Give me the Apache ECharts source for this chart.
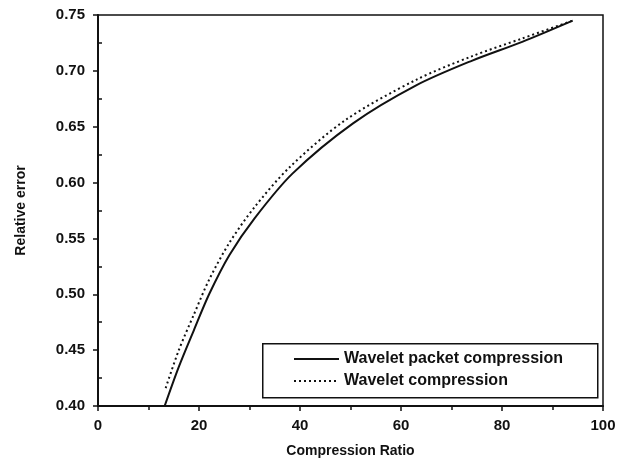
<!DOCTYPE html>
<html>
<head>
<meta charset="utf-8">
<script src="https://cdn.jsdelivr.net/npm/echarts@6/dist/echarts.min.js"></script>
<style>
html,body{margin:0;padding:0;background:#fff;}
#chart{width:623px;height:466px;}
</style>
</head>
<body>
<div id="chart"></div>
<script>
const seriesNames = ['Wavelet packet compression', 'Wavelet compression'];
const packetData = [
  [13.2,0.400],[16,0.435],[19,0.468],[22,0.500],[26,0.535],[31,0.568],
  [38.5,0.608],[50.5,0.653],[63,0.687],[74,0.709],[84,0.726],[94,0.745]
];
const waveletData = [
  [13.4,0.416],[16,0.450],[19,0.482],[22,0.513],[26,0.546],[31,0.578],
  [38,0.614],[49,0.656],[63,0.692],[74,0.713],[84,0.729],[94,0.745]
];
const xTitle = 'Compression Ratio';
const yTitle = 'Relative error';

const font = 'Liberation Sans, Arial, sans-serif';
const chart = echarts.init(document.getElementById('chart'), null, {renderer:'canvas'});
chart.setOption({
  animation: false,
  backgroundColor: '#fff',
  grid: {left: 98, right: 20, top: 15, bottom: 60, show: true, borderColor: '#111', borderWidth: 1.5, backgroundColor: 'transparent'},
  legend: {
    orient: 'vertical', left: 293, top: 351, itemWidth: 45, itemHeight: 10, itemGap: 6,
    padding: 0,
    itemStyle: {opacity: 0},
    textStyle: {fontFamily: font, fontSize: 16, fontWeight: 'bold', color: '#111'},
    data: seriesNames
  },
  graphic: [{
    type: 'rect', left: 262, top: 343, z: 5,
    shape: {width: 335, height: 54},
    style: {fill: 'transparent', stroke: '#111', lineWidth: 1.5}
  }],
  xAxis: {
    type: 'value', min: 0, max: 100, interval: 20,
    name: xTitle, nameLocation: 'middle', nameGap: 38,
    nameTextStyle: {fontFamily: font, fontSize: 14, fontWeight: 'bold', color: '#111'},
    axisLine: {show: true, lineStyle: {color: '#111', width: 2}},
    axisTick: {show: true, length: 5, lineStyle: {color: '#111', width: 1.5}},
    minorTick: {show: true, splitNumber: 2, length: 4, lineStyle: {color: '#111', width: 1.5}},
    splitLine: {show: false},
    axisLabel: {fontFamily: font, fontSize: 15, fontWeight: 'bold', color: '#111', margin: 12}
  },
  yAxis: {
    type: 'value', min: 0.40, max: 0.75, interval: 0.05,
    name: yTitle, nameLocation: 'middle', nameGap: 70,
    nameTextStyle: {fontFamily: font, fontSize: 14, fontWeight: 'bold', color: '#111'},
    axisLine: {show: true, lineStyle: {color: '#111', width: 2}},
    axisTick: {show: true, length: 5, lineStyle: {color: '#111', width: 1.5}},
    minorTick: {show: true, splitNumber: 2, length: -4, lineStyle: {color: '#111', width: 1.5}},
    splitLine: {show: false},
    axisLabel: {fontFamily: font, fontSize: 15, fontWeight: 'bold', color: '#111', margin: 13,
      formatter: v => v.toFixed(2)}
  },
  series: [
    {name: seriesNames[0], type: 'line', data: packetData, symbol: 'none', smooth: 0.3,
     lineStyle: {color: '#111', width: 2, type: 'solid'}, itemStyle: {color: '#111'}},
    {name: seriesNames[1], type: 'line', data: waveletData, symbol: 'none', smooth: 0.3,
     lineStyle: {color: '#111', width: 2, type: [2, 3]}, itemStyle: {color: '#111'}}
  ]
});
</script>
</body>
</html>
